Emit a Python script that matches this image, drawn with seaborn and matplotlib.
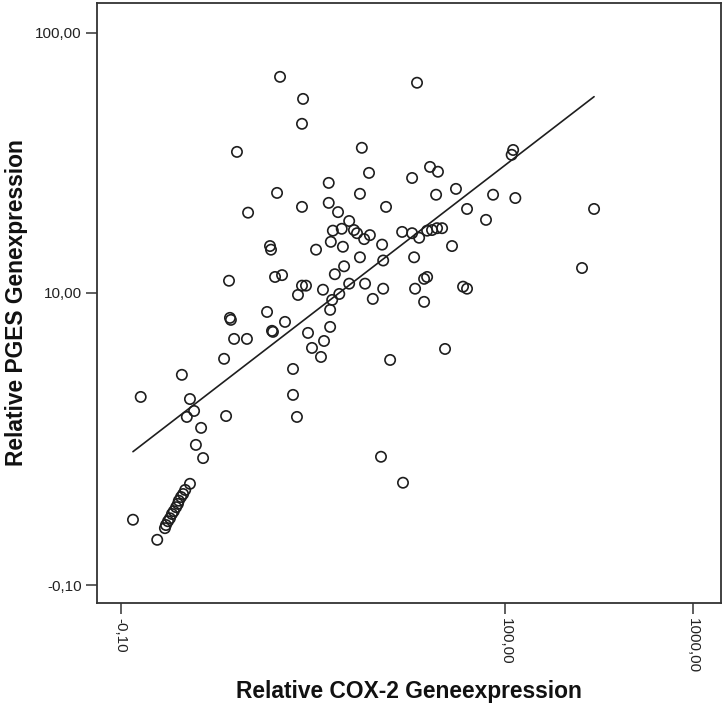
import numpy as np
import pandas as pd
import matplotlib
matplotlib.use("Agg")
import matplotlib.pyplot as plt
import seaborn as sns

#-----------------------------------------------------------------#
# Values (relative expression)

cox2 = [5.39, 7.47, 7.36, 33.2, 2.77, 16.4, 110, 108, 39.1, 43.2,
        18.0, 31.2, 10.6, 5.16, 54.1, 42.2, 16.0, 85.8, 113, 7.36,
        10.6, 22.4, 62.1, 298, 3.32, 12.0, 78.6, 13.9, 11.2, 12.6,
        14.8, 15.4, 18.2, 16.9, 27.5, 31.2, 34.1, 37.7, 40.1, 42.7,
        45.5, 10.9, 12.8, 21.3, 51.5, 4.65, 4.72, 8.93, 16.0, 21.6,
        32.0, 13.0, 11.5, 5.01, 5.55, 2.42, 7.36, 7.78, 9.81, 13.9,
        17.1, 21.6, 32.4, 36.3, 37.7, 59.1, 62.1, 257, 6.96, 12.2,
        11.1, 18.9, 36.3, 4.45, 10.8, 2.46, 2.50, 5.79, 4.79, 4.86,
        10.8, 2.64, 3.26, 8.00, 9.95, 8.45, 9.55, 2.22, 23.6, 47.2,
        6.49, 0.92, 0.16, 1.12, 6.49, 6.86, 1.23, 1.04, 2.30, 1.43,
        1.28, 1.49, 21.0, 27.8, 1.12, 1.00, 0.95, 0.90, 0.85, 0.83,
        0.79, 0.74, 0.70, 0.66, 0.62, 0.58, 0.56, 0.42, 0.055]

pges = [68.4, 56.5, 45.5, 65.0, 35.6, 36.9, 36.2, 34.7, 31.2, 29.9,
        29.6, 28.3, 27.1, 24.8, 25.7, 24.4, 24.6, 24.4, 23.7, 21.9,
        22.7, 21.9, 21.5, 21.5, 20.8, 20.9, 19.5, 19.3, 17.7, 18.0,
        17.8, 17.3, 17.0, 16.4, 17.5, 17.3, 16.6, 17.7, 17.8, 18.1,
        18.1, 16.0, 15.3, 15.6, 15.4, 15.4, 14.9, 14.9, 13.9, 13.5,
        13.9, 12.8, 11.9, 11.6, 11.8, 11.2, 10.7, 10.7, 10.3, 10.9,
        10.9, 10.4, 10.4, 11.4, 11.6, 10.6, 10.4, 12.6, 9.81, 9.90,
        9.36, 9.45, 9.19, 8.35, 8.52, 7.89, 7.74, 7.59, 6.96, 6.89,
        7.23, 6.43, 6.43, 6.82, 6.30, 5.88, 5.37, 5.27, 5.21, 5.82,
        4.75, 4.47, 3.53, 3.45, 3.61, 2.82, 3.02, 2.82, 2.85, 2.48,
        2.01, 1.69, 1.72, 1.18, 1.16, 1.05, 0.98, 0.93, 0.87, 0.82,
        0.77, 0.71, 0.67, 0.61, 0.57, 0.52, 0.48, 0.34, 0.59]

# Fit line as drawn in the reference (on the log10(value + 1) scale)
fit_slope = 0.536
fit_intercept = 0.441

x_ticks = [-0.1, 100, 1000]
x_tick_labels = ["-0,10", "100,00", "1000,00"]
y_ticks = [-0.1, 10, 100]
y_tick_labels = ["-0,10", "10,00", "100,00"]

#-----------------------------------------------------------------#
# "Safe" log scale (log10 of |value| + 1, keeps the sign)

def safe_log(v):
    v = np.asarray(v, dtype=float)
    return np.sign(v) * np.log10(np.abs(v) + 1)

def safe_exp(f):
    f = np.asarray(f, dtype=float)
    return np.sign(f) * (10 ** np.abs(f) - 1)

df = pd.DataFrame({'cox2': cox2, 'pges': pges})

# Line spans the range of the x values
fx = np.linspace(safe_log(df['cox2']).min(), safe_log(df['cox2']).max(), 50)
fit = pd.DataFrame({'cox2': safe_exp(fx),
                    'pges': safe_exp(fit_slope * fx + fit_intercept)})

#-----------------------------------------------------------------#

sns.set_style("white")
plt.rcParams['font.family'] = ['Liberation Sans', 'DejaVu Sans']

fig = plt.figure(figsize=(7.23, 7.06), dpi=100)
ax = fig.add_axes([0.1342, 0.1459, 0.8631, 0.8499])

ax.set_xscale('function', functions=(safe_log, safe_exp))
ax.set_yscale('function', functions=(safe_log, safe_exp))

sns.scatterplot(data=df, x='cox2', y='pges', ax=ax, s=55,
                facecolor='none', edgecolor='#1e1e1e', linewidth=1.2,
                zorder=3)
sns.lineplot(data=fit, x='cox2', y='pges', ax=ax, color='#1e1e1e',
             linewidth=1.2, sort=False, estimator=None, zorder=2)

ax.set_xlim(-0.472, 1415)
ax.set_ylim(-0.279, 129.3)

ax.set_xticks(x_ticks)
ax.set_xticklabels(x_tick_labels, rotation=-90)
ax.set_yticks(y_ticks)
ax.set_yticklabels(y_tick_labels)
ax.minorticks_off()

for side in ['left', 'right', 'top', 'bottom']:
    ax.spines[side].set_visible(True)
    ax.spines[side].set_color('#333333')
    ax.spines[side].set_linewidth(1.3)

ax.tick_params(bottom=True, left=True, top=False, right=False,
               direction='out', length=8, width=1.1, color='#333333',
               labelsize=11, labelcolor='#222222', pad=3)

ax.set_xlabel('Relative COX-2 Geneexpression', fontsize=16.4,
              fontweight='bold', color='#111111', labelpad=5)
ax.set_ylabel('Relative PGES Genexpression', fontsize=16.4,
              fontweight='bold', color='#111111', labelpad=5)

plt.savefig('out.png', dpi=100)
plt.close()
